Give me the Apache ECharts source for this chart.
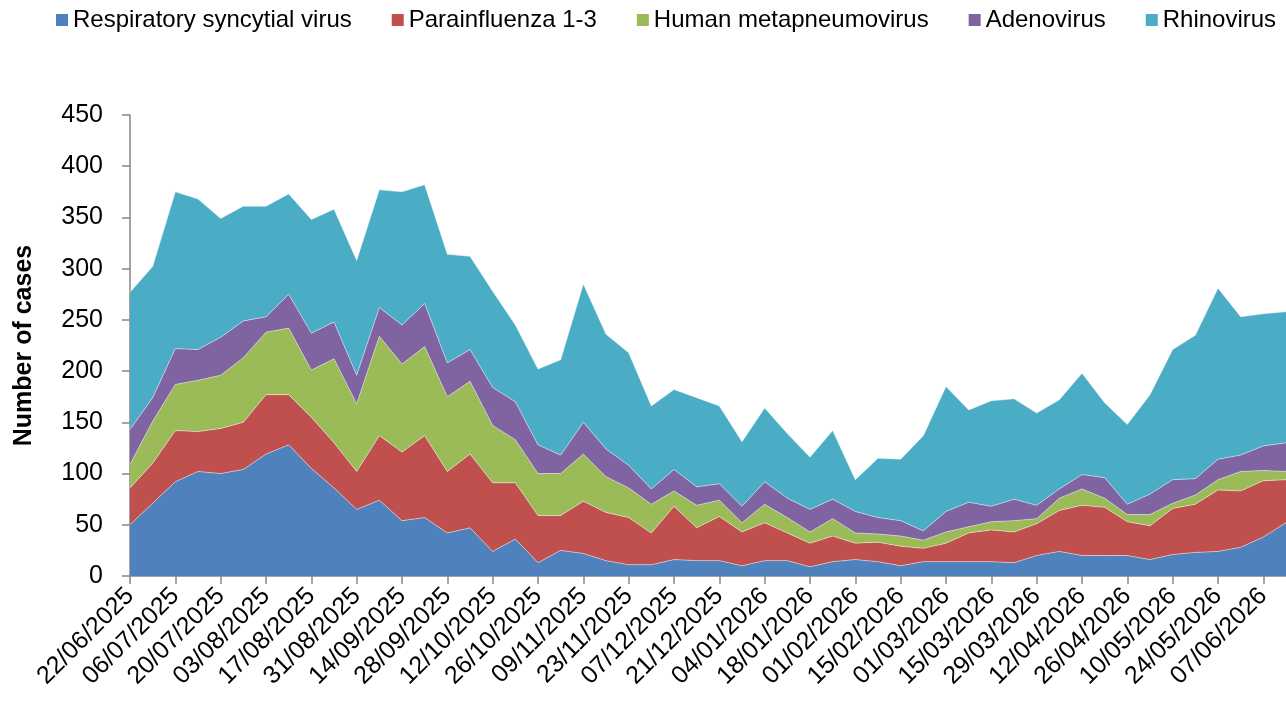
<!DOCTYPE html>
<html>
<head>
<meta charset="utf-8">
<script src="https://cdn.jsdelivr.net/npm/echarts@6/dist/echarts.min.js"></script>
<style>
  html, body { margin: 0; padding: 0; background: #fff; }
  #chart { width: 1286px; height: 706px; }
</style>
</head>
<body>
<div id="chart"></div>
<script>
// weekly categories
const weeks = [
  '22/06/2025', '29/06/2025', '06/07/2025', '13/07/2025', '20/07/2025', '27/07/2025',
  '03/08/2025', '10/08/2025', '17/08/2025', '24/08/2025', '31/08/2025', '07/09/2025',
  '14/09/2025', '21/09/2025', '28/09/2025', '05/10/2025', '12/10/2025', '19/10/2025',
  '26/10/2025', '02/11/2025', '09/11/2025', '16/11/2025', '23/11/2025', '30/11/2025',
  '07/12/2025', '14/12/2025', '21/12/2025', '28/12/2025', '04/01/2026', '11/01/2026',
  '18/01/2026', '25/01/2026', '01/02/2026', '08/02/2026', '15/02/2026', '22/02/2026',
  '01/03/2026', '08/03/2026', '15/03/2026', '22/03/2026', '29/03/2026', '05/04/2026',
  '12/04/2026', '19/04/2026', '26/04/2026', '03/05/2026', '10/05/2026', '17/05/2026',
  '24/05/2026', '31/05/2026', '07/06/2026', '14/06/2026'
]

const rsv = [50, 71, 92, 102, 100, 104, 119, 128, 105, 86, 65, 74, 54, 57, 42, 47, 24, 36,
  13, 25, 22, 15, 11, 11, 16, 15, 15, 10, 15, 15, 9, 14, 16, 14, 10, 14,
  14, 14, 14, 13, 20, 24, 20, 20, 20, 16, 21, 23, 24, 28, 38, 52]
const para = [36, 39, 50, 39, 44, 46, 58, 49, 50, 44, 37, 63, 67, 80, 60, 72, 67, 55,
  46, 34, 51, 47, 46, 31, 52, 32, 43, 33, 37, 27, 23, 25, 16, 19, 19, 13,
  18, 28, 31, 30, 31, 40, 49, 47, 33, 33, 45, 47, 60, 55, 55, 42]
const hmpv = [23, 41, 45, 50, 52, 63, 61, 65, 46, 82, 66, 97, 86, 87, 73, 71, 56, 42,
  41, 41, 46, 35, 29, 28, 15, 22, 16, 9, 18, 15, 11, 17, 10, 8, 10, 8,
  11, 6, 8, 11, 5, 12, 16, 9, 7, 11, 5, 9, 10, 19, 10, 8]
const adeno = [34, 23, 35, 30, 37, 36, 15, 33, 36, 36, 28, 28, 38, 42, 33, 31, 37, 37,
  28, 18, 31, 27, 22, 15, 21, 18, 16, 16, 22, 19, 22, 19, 21, 16, 15, 9,
  20, 24, 15, 21, 13, 9, 14, 20, 10, 20, 23, 16, 20, 16, 24, 28]
const rhino = [134, 128, 153, 147, 116, 112, 108, 98, 111, 110, 112, 115, 130, 116, 106, 91, 94, 75,
  74, 93, 135, 112, 110, 81, 78, 87, 76, 63, 72, 63, 51, 67, 31, 58, 60, 93,
  122, 90, 103, 98, 90, 87, 99, 73, 78, 97, 127, 140, 167, 135, 129, 128]

const yTicks = { min: 0, max: 450, step: 50 }

const names = ['Respiratory syncytial virus', 'Parainfluenza 1-3', 'Human metapneumovirus', 'Adenovirus', 'Rhinovirus']
const colors = ['#4F81BD', '#C0504D', '#9BBB59', '#8064A2', '#4BACC6']
const values = [rsv, para, hmpv, adeno, rhino]

const font = 'Liberation Sans, Arial, sans-serif'
const axisGrey = '#868686'

let option = {
  color: colors,
  animation: false,
  textStyle: { fontFamily: font },
  legend: {
    data: names,
    left: 56,
    top: 8,
    width: 1250,
    padding: 0,
    icon: 'rect',
    itemWidth: 12,
    itemHeight: 12,
    itemGap: 40,
    textStyle: { fontSize: 24, color: '#000', fontFamily: font }
  },
  grid: {
    left: 130,
    right: 0,
    top: 115,
    bottom: 130
  },
  xAxis: {
    type: 'category',
    boundaryGap: false,
    data: weeks,
    axisLine: { lineStyle: { color: axisGrey, width: 1.5 } },
    axisTick: { interval: 1, length: 8, lineStyle: { color: axisGrey, width: 1.5 } },
    axisLabel: {
      interval: 1,
      rotate: 45,
      margin: 16,
      fontSize: 25,
      color: '#000',
      fontFamily: font
    },
    splitLine: { show: false }
  },
  yAxis: {
    type: 'value',
    min: yTicks.min,
    max: yTicks.max,
    interval: yTicks.step,
    name: 'Number of cases',
    nameLocation: 'middle',
    nameGap: 93,
    nameTextStyle: { fontSize: 25, fontWeight: 'bold', color: '#000', fontFamily: font },
    axisLine: { show: true, lineStyle: { color: axisGrey, width: 1.5 } },
    axisTick: { show: true, length: 8, lineStyle: { color: axisGrey, width: 1.5 } },
    axisLabel: { fontSize: 25, color: '#000', margin: 27, fontFamily: font },
    splitLine: { show: false }
  },
  series: names.map((n, i) => ({
    name: n,
    type: 'line',
    stack: 'cases',
    symbol: 'none',
    data: values[i],
    lineStyle: { width: 1, color: 'rgba(255,255,255,0.45)' },
    areaStyle: { color: colors[i], opacity: 1 },
    itemStyle: { color: colors[i] }
  }))
}

const myChart = echarts.init(document.getElementById('chart'))
myChart.setOption(option)
</script>
</body>
</html>
